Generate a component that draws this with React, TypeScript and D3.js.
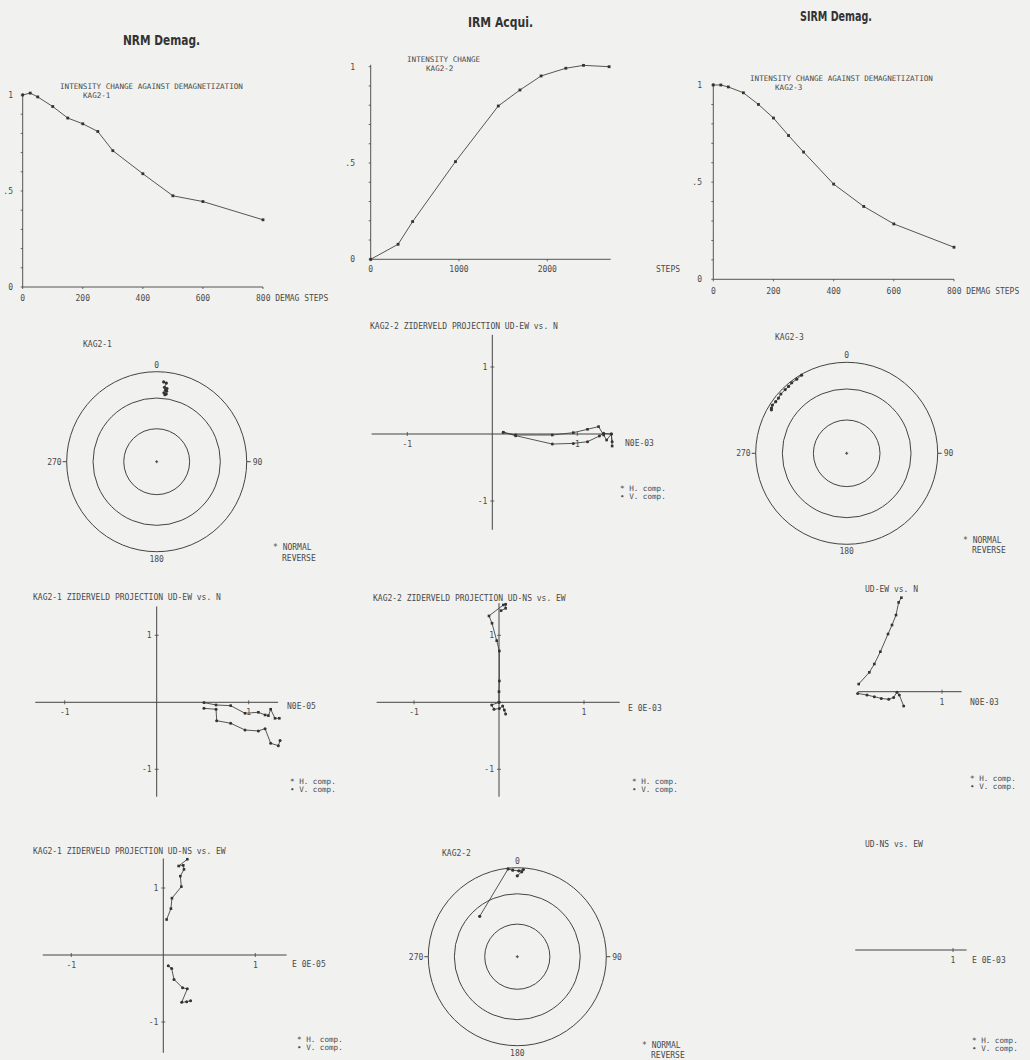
import React, { useEffect } from 'react';
import * as d3 from 'd3';

const MONO = '"DejaVu Sans Mono", monospace';
const INK = '#444';
const TXT = '#4a4a4a';
const PAPER = '#f1f1ef';

// intensity curves
const nrmSteps = [0, 25, 50, 100, 150, 200, 250, 300, 400, 500, 600, 800];
const nrmValues = [1, 1.01, 0.99, 0.94, 0.88, 0.85, 0.81, 0.71, 0.59, 0.475, 0.445, 0.35];
const irmSteps = [0, 310, 475, 960, 1445, 1690, 1930, 2210, 2410, 2700];
const irmValues = [0, 0.078, 0.196, 0.507, 0.796, 0.879, 0.952, 0.992, 1.007, 1.0];
const sirmSteps = [0, 25, 50, 100, 150, 200, 250, 300, 400, 500, 600, 800];
const sirmValues = [1, 1.0, 0.99, 0.96, 0.9, 0.83, 0.74, 0.655, 0.49, 0.375, 0.285, 0.165];
const demagTicks = [0, 200, 400, 600, 800];
const irmTicks = [0, 1000, 2000];
const intensityTicks = [0, 0.5, 1];
const intensityTickLabels = ['0', '.5', '1'];

// stereonets (declination, inclination in degrees)
const kag1Dec = [5, 7, 6, 8, 7, 8, 6, 8, 7];
const kag1Inc = [12, 13, 18, 19, 21, 22, 24, 25, 26];
const kag3Dec = [330, 326, 322, 319, 316, 312, 309, 306, 303, 301, 300];
const kag3Inc = [1, 2, 2, 3, 3, 3, 4, 4, 3, 4, 5];
const kag2Dec = [317, 354, 357, 1, 4, 3, 0];
const kag2Inc = [38, 1, 3, 4, 2, 5, 10];
const netCircles = [0, 30, 60];

// zijderveld projections (normalised units)
const kag2EwN_H: [number, number][] = [[0.129, 0.025], [0.275, -0.015], [0.706, -0.015], [0.953, 0.02], [1.12, 0.07], [1.25, 0.11], [1.31, -0.015], [1.345, -0.09], [1.4, 0.0], [1.41, -0.18]];
const kag2EwN_V: [number, number][] = [[0.129, 0.025], [0.275, -0.025], [0.706, -0.15], [0.953, -0.14], [1.12, -0.115], [1.26, -0.03], [1.31, 0.01], [1.4, 0.0], [1.41, -0.115]];
const kag1EwN_H: [number, number][] = [[0.514, -0.005], [0.645, -0.04], [0.804, -0.05], [0.96, -0.164], [1.105, -0.149], [1.178, -0.189], [1.214, -0.199], [1.239, -0.104], [1.286, -0.239], [1.333, -0.239]];
const kag1EwN_V: [number, number][] = [[0.514, -0.09], [0.645, -0.104], [0.652, -0.274], [0.804, -0.313], [0.96, -0.413], [1.105, -0.428], [1.178, -0.393], [1.239, -0.612], [1.322, -0.647], [1.341, -0.572]];
const kag2NsE_V: [number, number][] = [[0, 0], [0, 0.159], [0.004, 0.318], [0.004, 0.766], [-0.027, 0.92], [-0.082, 1.18], [-0.118, 1.289], [0.051, 1.453], [0.078, 1.463], [0.078, 1.403], [0.024, 1.368]];
const kag2NsE_H: [number, number][] = [[0, 0], [-0.086, -0.04], [-0.059, -0.104], [0.004, -0.094], [0.043, -0.055], [0.063, -0.114], [0.078, -0.174]];
const kag3EwN_V: [number, number][] = [[0.02, 0.114], [0.145, 0.289], [0.204, 0.413], [0.275, 0.597], [0.365, 0.861], [0.412, 0.995], [0.459, 1.144], [0.49, 1.333], [0.522, 1.403]];
const kag3EwN_H: [number, number][] = [[0.008, -0.025], [0.118, -0.05], [0.204, -0.075], [0.286, -0.1], [0.373, -0.114], [0.431, -0.085], [0.47, -0.01], [0.498, -0.05], [0.549, -0.214]];
const kag1NsE_V: [number, number][] = [[0.036, 0.53], [0.083, 0.692], [0.094, 0.848], [0.196, 1.02], [0.185, 1.177], [0.225, 1.278], [0.217, 1.338], [0.167, 1.328], [0.261, 1.429]];
const kag1NsE_H: [number, number][] = [[0.054, -0.162], [0.091, -0.202], [0.116, -0.364], [0.21, -0.49], [0.261, -0.505], [0.2, -0.707], [0.254, -0.697], [0.297, -0.682]];

function T({ x, y, children, anchor = 'start', size = 8 }: any) {
  return (
    <text x={x} y={y} textAnchor={anchor} fontSize={size} fill={TXT} fontFamily={MONO}>
      {children}
    </text>
  );
}

// two lines of text kept in one element
function T2({ x, y, lines, dx = [0, 0], gap, size = 8 }: any) {
  return (
    <text fontSize={size} fill={TXT} fontFamily={MONO}>
      <tspan x={x + dx[0]} y={y}>{lines[0]}</tspan>
      <tspan x={x + dx[1]} y={y + gap}>{lines[1]}</tspan>
    </text>
  );
}

function Intensity(p: any) {
  const x = d3.scaleLinear().domain(p.xDomain).range(p.xRange);
  const y = d3.scaleLinear().domain([0, 1]).range([p.bottom, p.top]);
  const line = d3.line<number>().x((_, i) => x(p.steps[i])).y(d => y(d));
  const x0 = x(0);
  return (
    <g>
      <text x={p.titleX} y={p.titleY} fontFamily='"DejaVu Sans", sans-serif' fontWeight="bold" fontSize={14}
        fill="#333" textLength={p.titleW} lengthAdjust="spacingAndGlyphs">{p.title}</text>
      <T2 x={p.subX[0]} y={p.subY[0]} lines={p.sub} dx={[0, p.subX[1] - p.subX[0]]}
        gap={p.subY[1] - p.subY[0]} size={7.6} />
      <line x1={x0} x2={x0} y1={y(0)} y2={y(1.01)} stroke={INK} strokeWidth={0.9} />
      <line x1={x0} x2={x(p.axisMax)} y1={y(0)} y2={y(0)} stroke={INK} strokeWidth={0.9} />
      {d3.range(0, 1.01, 0.1).map(v => (
        <line key={v} x1={x0 - 2} x2={x0} y1={y(v)} y2={y(v)} stroke={INK} strokeWidth={0.8} />
      ))}
      {intensityTicks.map((v, i) => (
        <T key={v} x={p.yLabelX} y={y(v) + 3} anchor="end">{intensityTickLabels[i]}</T>
      ))}
      {p.ticks.map((t: number, i: number) => (
        <g key={t}>
          <line x1={x(t)} x2={x(t)} y1={y(0)} y2={y(0) + 2} stroke={INK} strokeWidth={0.8} />
          {p.lastSuffix && i === p.ticks.length - 1 ? (
            <T x={x(t) - 7} y={y(0) + p.labelDy}>{t + p.lastSuffix}</T>
          ) : (
            <T x={x(t)} y={y(0) + p.labelDy} anchor="middle">{t}</T>
          )}
        </g>
      ))}
      {p.stepsLabel && <T x={p.stepsLabel.x} y={y(0) + p.labelDy} anchor="middle">{p.stepsLabel.text}</T>}
      <path d={line(p.values) || ''} fill="none" stroke={INK} strokeWidth={0.9} />
      {p.values.map((v: number, i: number) => (
        <rect key={i} x={x(p.steps[i]) - 1.4} y={y(v) - 1.4} width={2.8} height={2.8} fill="#333" />
      ))}
    </g>
  );
}

function Stereo(p: any) {
  const rad = d3.scaleLinear().domain([0, 1]).range([0, p.R]);
  const rOf = (inc: number) => rad(Math.SQRT2 * Math.sin(((90 - inc) / 2) * Math.PI / 180));
  const pt = (dec: number, inc: number): [number, number] => {
    const a = dec * Math.PI / 180;
    const r = rOf(inc);
    return [p.cx + r * Math.sin(a), p.cy - r * Math.cos(a)];
  };
  const pts = p.dec.map((d: number, i: number) => pt(d, p.inc[i]));
  const R = p.R;
  return (
    <g>
      <T x={p.nameX} y={p.nameY}>{p.name}</T>
      {netCircles.map(c => (
        <circle key={c} cx={p.cx} cy={p.cy} r={rOf(c)} fill="none" stroke={INK} strokeWidth={1} />
      ))}
      <line x1={p.cx - 1.5} x2={p.cx + 1.5} y1={p.cy} y2={p.cy} stroke={INK} />
      <line x1={p.cx} x2={p.cx} y1={p.cy - 1.5} y2={p.cy + 1.5} stroke={INK} />
      <line x1={p.cx + R} x2={p.cx + R + 4} y1={p.cy} y2={p.cy} stroke={INK} />
      <line x1={p.cx - R - 4} x2={p.cx - R} y1={p.cy} y2={p.cy} stroke={INK} />
      <T x={p.cx} y={p.cy - R - 4} anchor="middle">0</T>
      <T x={p.cx + R + 6} y={p.cy + 3}>90</T>
      <T x={p.cx} y={p.cy + R + 10} anchor="middle">180</T>
      <T x={p.cx - R - 5} y={p.cy + 3} anchor="end">270</T>
      <path d={d3.line()(pts) || ''} fill="none" stroke={INK} strokeWidth={0.9} />
      {pts.map((q: [number, number], i: number) => (
        <circle key={i} cx={q[0]} cy={q[1]} r={1.6} fill="#333" />
      ))}
      <T2 x={p.legX} y={p.legY} lines={['* NORMAL', 'REVERSE']} dx={[0, 9]} gap={p.legGap || 11} />
    </g>
  );
}

function Zij(p: any) {
  const x = d3.scaleLinear().domain([0, 1]).range([p.ox, p.ox + p.ux]);
  const y = d3.scaleLinear().domain([0, 1]).range([p.oy, p.oy - p.uy]);
  const line = d3.line<[number, number]>().x(d => x(d[0])).y(d => y(d[1]));
  return (
    <g>
      <T x={p.titleX} y={p.titleY}>{p.title}</T>
      <line x1={x(p.xd[0])} x2={x(p.xd[1])} y1={p.oy} y2={p.oy} stroke={INK} strokeWidth={1} />
      {p.yd && <line x1={p.ox} x2={p.ox} y1={y(p.yd[0])} y2={y(p.yd[1])} stroke={INK} strokeWidth={1} />}
      {p.xTicks.map((t: number) => (
        <g key={'x' + t}>
          <line x1={x(t)} x2={x(t)} y1={p.oy - 2} y2={p.oy + 2} stroke={INK} strokeWidth={0.8} />
          <T x={x(t)} y={p.oy + 13} anchor="middle">{t}</T>
        </g>
      ))}
      {p.yd && [1, -1].map(t => (
        <g key={'y' + t}>
          <line x1={p.ox - 2} x2={p.ox + 2} y1={y(t)} y2={y(t)} stroke={INK} strokeWidth={0.8} />
          <T x={p.ox - 5} y={y(t) + 3} anchor="end">{t}</T>
        </g>
      ))}
      <T x={p.nameX} y={p.nameY}>{p.name}</T>
      {p.lines.map((l: [number, number][], k: number) => (
        <g key={k}>
          <path d={line(l) || ''} fill="none" stroke={INK} strokeWidth={0.9} />
          {l.map((d, i) => k === 0 ? (
            <rect key={i} x={x(d[0]) - 1.3} y={y(d[1]) - 1.3} width={2.6} height={2.6} fill="#333" />
          ) : (
            <circle key={i} cx={x(d[0])} cy={y(d[1])} r={1.5} fill="#333" />
          ))}
        </g>
      ))}
      <T2 x={p.legX} y={p.legY} lines={['* H. comp.', '• V. comp.']} gap={7.5} size={7.6} />
    </g>
  );
}

export default function App() {
  useEffect(() => {
    document.body.style.margin = '0';
  }, []);
  return (
    <svg width={1030} height={1060} style={{ display: 'block', position: 'absolute', left: 0, top: 0 }}>
      <rect width={1030} height={1060} fill={PAPER} />

      <Intensity title="NRM Demag." titleX={123} titleY={45} titleW={77}
        sub={['INTENSITY CHANGE AGAINST DEMAGNETIZATION', 'KAG2-1']} subX={[60, 83]} subY={[89, 98]}
        steps={nrmSteps} values={nrmValues} xDomain={[0, 800]} xRange={[22.7, 263]} axisMax={800}
        bottom={287} top={95} ticks={demagTicks} lastSuffix=" DEMAG STEPS" labelDy={14} yLabelX={13} />
      <Intensity title="IRM Acqui." titleX={468} titleY={27} titleW={65}
        sub={['INTENSITY CHANGE', 'KAG2-2']} subX={[407, 426]} subY={[61.5, 70.5]}
        steps={irmSteps} values={irmValues} xDomain={[0, 1000]} xRange={[370.7, 459]} axisMax={2717}
        bottom={259.3} top={66.7} ticks={irmTicks} labelDy={13} yLabelX={355}
        stepsLabel={{ x: 668, text: 'STEPS' }} />
      <Intensity title="SIRM Demag." titleX={800} titleY={21} titleW={72}
        sub={['INTENSITY CHANGE AGAINST DEMAGNETIZATION', 'KAG2-3']} subX={[750, 775]} subY={[80.5, 89.5]}
        steps={sirmSteps} values={sirmValues} xDomain={[0, 800]} xRange={[713.3, 954]} axisMax={800}
        bottom={279.3} top={85} ticks={demagTicks} lastSuffix=" DEMAG STEPS" labelDy={15} yLabelX={702} />

      <Stereo cx={156.7} cy={461.7} R={90} dec={kag1Dec} inc={kag1Inc}
        name="KAG2-1" nameX={83} nameY={347} legX={273} legY={550} />
      <Zij ox={492.3} oy={434} ux={85} uy={67} xd={[-1.42, 1.42]} yd={[1.48, -1.43]} xTicks={[-1, 1]}
        title="KAG2-2   ZIDERVELD PROJECTION  UD-EW vs. N" titleX={370} titleY={328.5}
        name="N0E-03" nameX={625} nameY={446} lines={[kag2EwN_H, kag2EwN_V]} legX={620} legY={491} />
      <Stereo cx={846.7} cy={453.3} R={91} dec={kag3Dec} inc={kag3Inc}
        name="KAG2-3" nameX={775} nameY={339.5} legX={963} legY={543} legGap={10} />

      <Zij ox={156.7} oy={702.3} ux={92} uy={67} xd={[-1.32, 1.32]} yd={[1.43, -1.41]} xTicks={[-1, 1]}
        title="KAG2-1   ZIDERVELD PROJECTION  UD-EW vs. N" titleX={33} titleY={600}
        name="N0E-05" nameX={287} nameY={709} lines={[kag1EwN_H, kag1EwN_V]} legX={290} legY={784} />
      <Zij ox={499} oy={702.3} ux={85} uy={67} xd={[-1.44, 1.42]} yd={[1.48, -1.41]} xTicks={[-1, 1]}
        title="KAG2-2   ZIDERVELD PROJECTION  UD-NS vs. EW" titleX={373} titleY={601}
        name="E 0E-03" nameX={628} nameY={710.5} lines={[kag2NsE_V, kag2NsE_H]} legX={632} legY={784} />
      <Zij ox={857} oy={691.7} ux={85} uy={67} xd={[0.01, 1.23]} xTicks={[1]}
        title="UD-EW vs. N" titleX={865} titleY={591.7}
        name="N0E-03" nameX={970} nameY={705} lines={[kag3EwN_V, kag3EwN_H]} legX={970} legY={781} />

      <Zij ox={163.3} oy={955} ux={92} uy={67} xd={[-1.31, 1.34]} yd={[1.44, -1.46]} xTicks={[-1, 1]}
        title="KAG2-1   ZIDERVELD PROJECTION  UD-NS vs. EW" titleX={33} titleY={854}
        name="E 0E-05" nameX={292} nameY={967} lines={[kag1NsE_V, kag1NsE_H]} legX={297} legY={1042} />
      <Stereo cx={517.3} cy={956.7} R={89} dec={kag2Dec} inc={kag2Inc}
        name="KAG2-2" nameX={442} nameY={856} legX={642} legY={1048} legGap={9.5} />
      <Zij ox={868} oy={950} ux={85} uy={67} xd={[-0.15, 1.16]} xTicks={[1]}
        title="UD-NS vs. EW" titleX={865} titleY={846.7}
        name="E 0E-03" nameX={972} nameY={963} lines={[]} legX={972} legY={1043} />
    </svg>
  );
}
